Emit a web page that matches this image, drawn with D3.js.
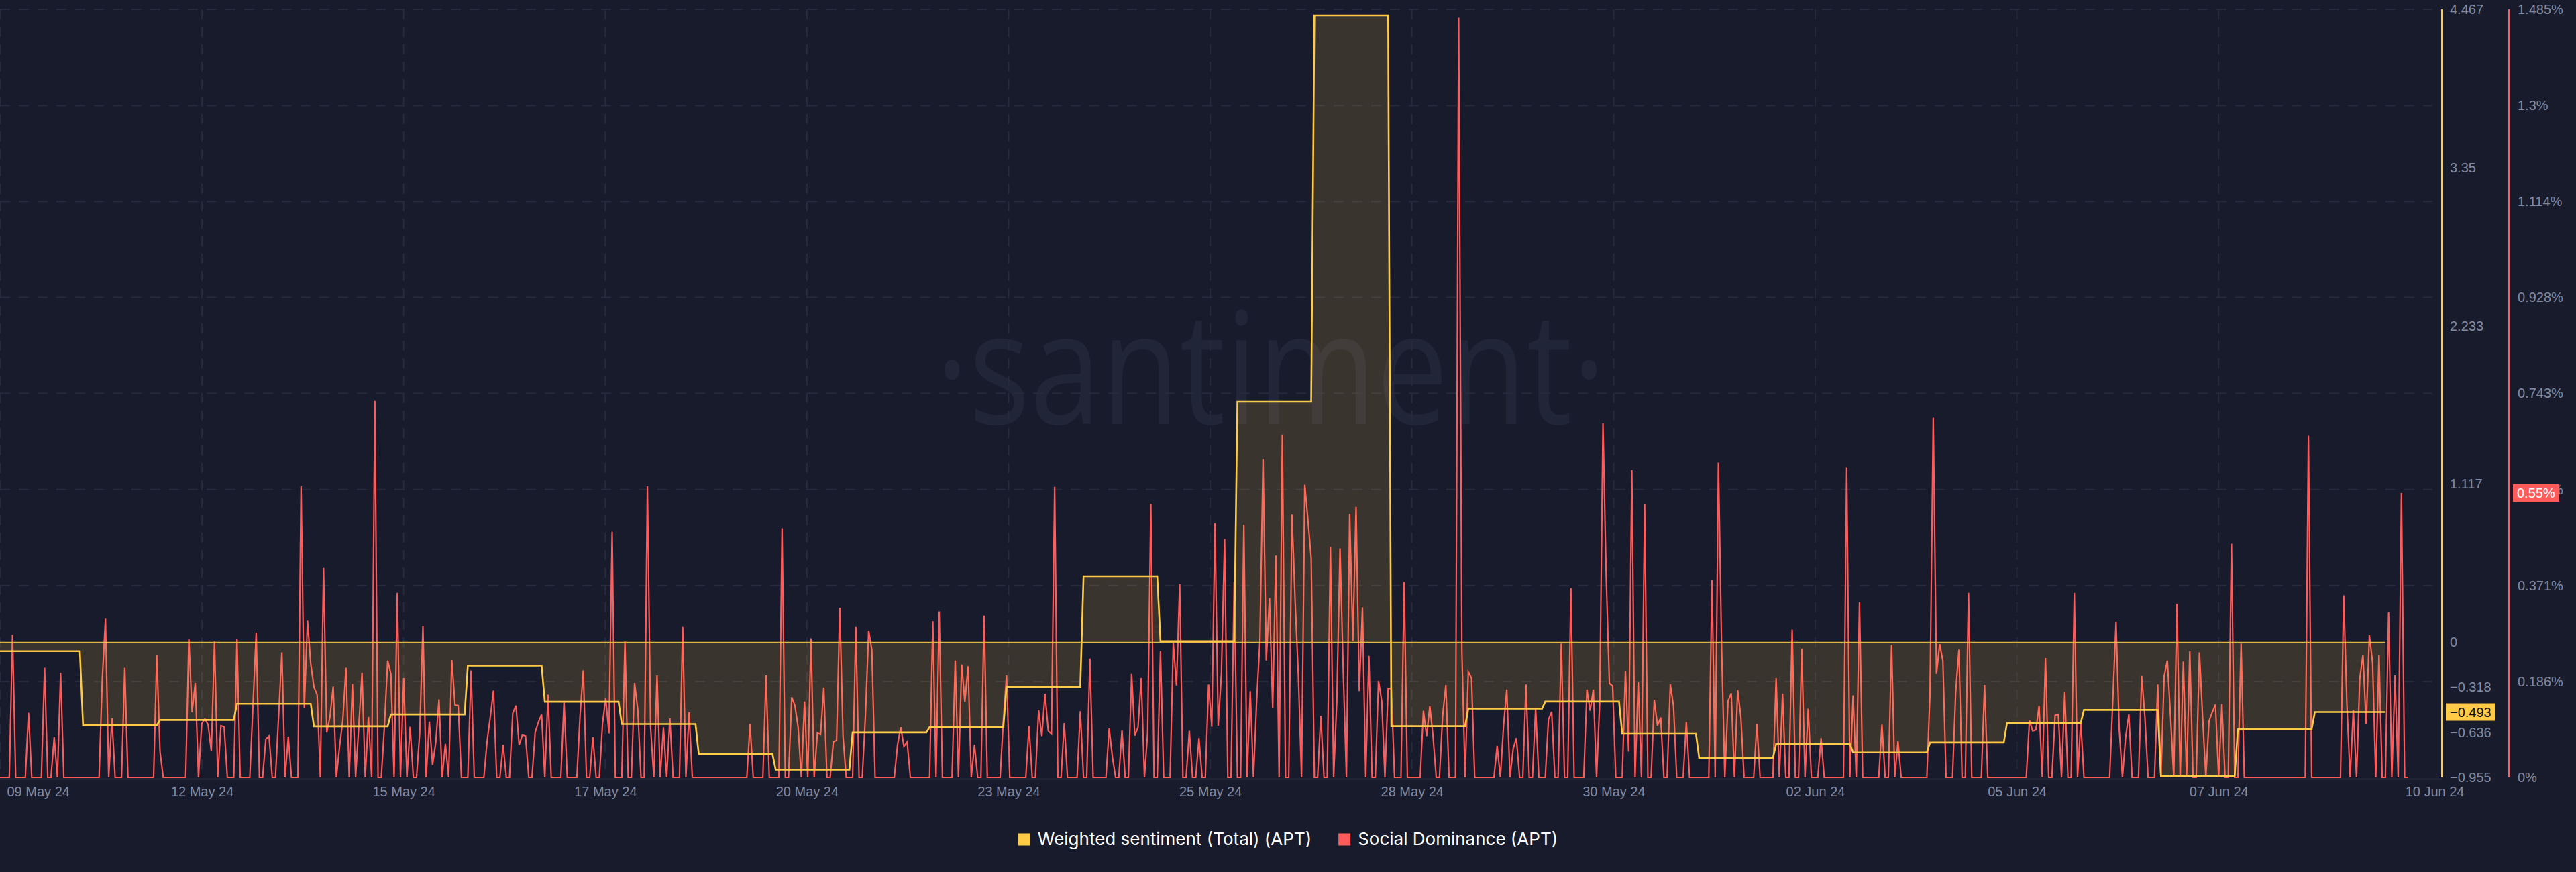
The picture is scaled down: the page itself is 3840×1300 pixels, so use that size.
<!DOCTYPE html>
<html><head><meta charset="utf-8">
<script src="https://cdn.jsdelivr.net/npm/d3@7"></script>
<style>
html,body{margin:0;padding:0;background:#181b2b;}
svg{display:block}
</style></head><body>
<svg id="chart" width="3840" height="1300"></svg>
<script>
// ======================= DATA =======================
// Social Dominance (APT), hourly values in %, first value at hourlyStart
const hourlyStart = "2024-05-09T22:00:00Z";
const socialDominance = [
0,0,0,0,.276,0,0,0,0,.125,0,0,0,0,.212,0,0,.078,0,.202,0,0,0,0,
0,0,0,0,0,0,0,0,.19,.307,0,.114,0,0,0,.212,0,0,0,0,0,0,0,0,
0,.237,.05,0,0,0,0,0,0,0,0,.268,.126,.183,0,.104,.113,.102,.051,.263,0,.1,.098,0,
0,0,.268,0,0,0,0,.14,.28,0,0,.074,.08,0,0,.12,.242,0,.079,0,0,0,.563,.134,
.303,.22,.175,.16,0,.405,.087,.117,.176,0,.06,.11,.212,0,.181,0,.1,.202,0,.117,0,.728,0,0,
.1,.226,.2,0,.357,0,.192,0,.098,0,0,.087,.293,0,.108,.024,.068,.151,0,.065,0,.227,.14,.139,
0,0,0,.207,0,0,0,0,.07,.117,.168,0,0,.063,0,0,.124,.139,.063,.082,.08,0,0,.087,
.107,.122,0,.16,0,0,0,0,.148,0,0,0,0,.12,.207,0,0,.078,0,0,.104,.153,.085,.475,
0,0,0,.263,0,0,.183,.131,0,0,.563,.097,0,.197,0,.097,0,.114,0,0,0,.291,0,.126,
0,0,0,0,0,0,0,0,0,0,0,0,0,0,0,0,0,0,.103,0,0,0,0,.197,
0,0,0,0,.482,0,0,.155,.139,.097,0,.147,0,.269,0,.086,.083,.174,0,0,.069,.072,.328,.08,
0,0,0,.291,0,0,.12,.284,.246,0,0,0,0,0,0,0,.063,.097,.06,.069,0,0,0,0,
0,0,0,.302,0,.321,0,0,0,0,.226,0,.218,.146,.215,0,.063,0,0,.313,0,0,0,0,
0,.11,.197,0,0,0,0,0,0,.099,0,0,.13,.08,.162,.09,.084,.562,0,0,.105,0,0,0,
0,.128,0,0,.23,0,0,0,0,0,.095,.04,0,0,.091,0,0,.2,.081,.097,.192,0,.087,.529,
0,0,.244,0,0,0,.26,.178,.374,0,0,.09,0,0,.076,0,0,.18,.098,.492,.1,.2,.461,0,
0,.378,0,0,.489,0,.167,0,.148,.264,.615,.226,.347,.134,.429,0,.663,0,0,.508,.342,.197,0,.566,
.497,.424,0,0,.119,0,0,.446,0,.148,.443,.206,0,.509,.264,.523,.167,.329,0,.235,0,0,.187,.148,
0,.172,.172,0,0,0,.378,0,0,0,0,0,.129,.08,.138,.08,0,0,.119,.179,0,0,0,1.469,
.245,0,.204,.192,0,0,0,0,0,0,0,.061,0,.1,.17,0,.056,.076,0,0,.18,0,0,.134,
0,0,0,.112,.127,0,0,.259,0,0,.366,0,0,0,0,.17,.129,.17,0,.148,.685,.39,.182,.177,
0,0,0,.206,.05,.594,0,.184,0,.528,0,0,.15,.1,.116,0,0,.18,.138,0,0,0,.107,0,
0,0,0,0,0,0,.382,0,.609,.25,0,.148,.163,0,.169,.117,0,0,0,0,.103,0,0,0,
0,0,.192,0,.162,0,0,.286,0,0,.249,0,.133,0,0,0,.076,0,0,0,0,0,0,0,
.6,0,.159,0,.339,0,0,0,0,0,0,.102,0,0,.256,0,.07,0,0,0,0,0,0,0,
0,0,.165,.696,.2,.258,.225,0,0,0,.165,.247,0,0,.357,0,0,0,0,.179,0,0,0,0,
0,0,0,0,0,0,0,0,0,.11,.09,.092,.138,0,.231,0,0,.12,.122,0,.165,0,0,.357,
0,.108,0,0,0,0,0,0,0,0,0,.15,.301,.092,0,.078,.122,0,0,0,.196,.117,0,0,
0,.18,0,.195,.226,.117,0,.336,0,.224,0,.244,0,0,.242,.117,0,.109,.126,.141,0,.142,0,0,
.452,0,0,.259,0,0,0,0,0,0,0,0,0,0,0,0,0,0,0,0,0,0,0,0,
.661,0,0,0,0,0,0,0,0,0,0,.352,.141,0,.13,0,.19,.237,.103,.275,.222,0,.237,0,
0,.319,0,.197,0,.55,0,0
];

// Weighted sentiment (Total) (APT), one value per day
const sentimentDates = [
"2024-05-09","2024-05-10","2024-05-11","2024-05-12","2024-05-13","2024-05-14","2024-05-15","2024-05-16",
"2024-05-17","2024-05-18","2024-05-19","2024-05-20","2024-05-21","2024-05-22","2024-05-23","2024-05-24",
"2024-05-25","2024-05-26","2024-05-27","2024-05-28","2024-05-29","2024-05-30","2024-05-31","2024-06-01",
"2024-06-02","2024-06-03","2024-06-04","2024-06-05","2024-06-06","2024-06-07","2024-06-08","2024-06-09"];
const sentimentValues = [
-0.063,-0.063,-0.587,-0.549,-0.435,-0.594,-0.51,-0.166,
-0.42,-0.578,-0.79,-0.90,-0.637,-0.60,-0.315,0.466,
0.007,1.697,4.424,-0.593,-0.469,-0.419,-0.647,-0.817,
-0.719,-0.778,-0.708,-0.57,-0.478,-0.946,-0.615,-0.493];
const sentimentEnd = "2024-06-09T22:00:00Z";

// axes extents shown on the chart
const timeExtent = ["2024-05-09T22:06:00Z", "2024-06-10T15:36:00Z"];
const sentimentAxisExtent = [-0.9546, 4.4668];
const dominanceAxisExtent = [0, 1.4852];

// x tick marks and their labels
const xTickDates = ["2024-05-09T22:11:00Z","2024-05-12T13:05:00Z","2024-05-15T03:58:00Z","2024-05-17T18:52:00Z",
"2024-05-20T09:45:00Z","2024-05-23T00:38:00Z","2024-05-25T15:32:00Z","2024-05-28T06:25:00Z","2024-05-30T21:19:00Z",
"2024-06-02T12:12:00Z","2024-06-05T03:05:00Z","2024-06-07T17:59:00Z","2024-06-10T08:52:00Z"];
const xTickLabels = ["09 May 24","12 May 24","15 May 24","17 May 24","20 May 24","23 May 24","25 May 24",
"28 May 24","30 May 24","02 Jun 24","05 Jun 24","07 Jun 24","10 Jun 24"];

const seriesNames = ["Weighted sentiment (Total) (APT)", "Social Dominance (APT)"];

// ======================= STYLE =======================
const COL = {bg:"#181b2b", yellow:"#ffcb47", red:"#ff5b5b", grid:"#262a3c", axisText:"#838ba3",
             watermark:"#212538", baseline:"#252a3a"};
const W = 3840, H = 1300;
const plot = {left:0, right:3640, top:14, bottom:1159};
const HOUR = 36e5;

const svg = d3.select("#chart");
svg.append("rect").attr("width",W).attr("height",H).attr("fill",COL.bg);

const x = d3.scaleUtc().domain(timeExtent.map(d=>new Date(d))).range([plot.left, plot.right]);
const yS = d3.scaleLinear().domain(sentimentAxisExtent).range([plot.bottom, plot.top]);
const yD = d3.scaleLinear().domain(dominanceAxisExtent).range([plot.bottom, plot.top]);

// ticks
const [smin, smax] = sentimentAxisExtent;
const sentTicks = [smin, smin*2/3, smin/3, 0, smax/4, smax/2, smax*3/4, smax];
const domTicks = d3.range(0, 9).map(k => dominanceAxisExtent[1]*k/8);
const fmt = d3.format(".3~f");

// watermark
svg.append("text").attr("x", 1894).attr("y", 632).attr("text-anchor","middle")
  .attr("font-family","'Open Sans', sans-serif").attr("font-size", 233)
  .attr("textLength", 1000).attr("lengthAdjust","spacingAndGlyphs")
  .attr("fill", COL.watermark).text("\u00B7santiment\u00B7");

// grid
const grid = svg.append("g");
grid.selectAll("line.h").data(domTicks.filter(d=>d>0)).join("line")
  .attr("x1", plot.left).attr("x2", 3626).attr("y1", d=>yD(d)).attr("y2", d=>yD(d))
  .attr("stroke", COL.grid).attr("stroke-width", 2).attr("stroke-dasharray","15 13");
grid.selectAll("line.v").data(xTickDates.slice(0,-1)).join("line")
  .attr("x1", d=>x(new Date(d))).attr("x2", d=>x(new Date(d)))
  .attr("y1", plot.top).attr("y2", plot.bottom)
  .attr("stroke", COL.grid).attr("stroke-width", 2).attr("stroke-dasharray","15 11");

// clip
svg.append("clipPath").attr("id","clip").append("rect")
  .attr("x", plot.left).attr("y", 0).attr("width", plot.right-plot.left).attr("height", plot.bottom+4);
const g = svg.append("g").attr("clip-path","url(#clip)");

// social dominance line
const t0 = +new Date(hourlyStart);
const domPts = socialDominance.map((v,i)=>[new Date(t0 + i*HOUR), v]);
g.append("path").datum(domPts)
  .attr("d", d3.line().x(d=>x(d[0])).y(d=>yD(d[1])))
  .attr("fill","none").attr("stroke", COL.red).attr("stroke-width", 2.2);

// sentiment: each daily value held through the day (hourly resolution)
const sEnd = new Date(sentimentEnd);
const sentPts = [];
sentimentDates.forEach((d,i)=>{
  const t = new Date(d+"T00:00:00Z");
  let te = new Date(+t + 23*HOUR); if (te > sEnd) te = sEnd;
  sentPts.push([t, sentimentValues[i]], [te, sentimentValues[i]]);
});
g.append("path").datum(sentPts)
  .attr("d", d3.area().x(d=>x(d[0])).y0(yS(0)).y1(d=>yS(d[1])))
  .attr("fill", COL.yellow).attr("fill-opacity", 0.15);
g.append("line").attr("x1", x(sentPts[0][0])).attr("x2", x(sEnd))
  .attr("y1", yS(0)).attr("y2", yS(0)).attr("stroke", COL.yellow).attr("stroke-width", 1.3).attr("opacity",0.85);
g.append("path").datum(sentPts)
  .attr("d", d3.line().x(d=>x(d[0])).y(d=>yS(d[1])))
  .attr("fill","none").attr("stroke", COL.yellow).attr("stroke-width", 2.6);

// baseline
svg.append("line").attr("x1", plot.left).attr("x2", plot.right).attr("y1", plot.bottom+2.5).attr("y2", plot.bottom+2.5)
  .attr("stroke", COL.baseline).attr("stroke-width", 2);

// x axis
const xa = svg.append("g").attr("transform", `translate(0,${plot.bottom})`)
  .call(d3.axisBottom(x).tickValues(xTickDates.map(d=>new Date(d)))
        .tickFormat((d,i)=>xTickLabels[i]).tickSize(0).tickPadding(0));
xa.select(".domain").remove();
xa.selectAll("text").attr("y", 28).attr("dy", 0)
  .attr("font-family","'Liberation Sans', Arial, sans-serif").attr("font-size", 20).attr("fill", COL.axisText);
const xTexts = xa.selectAll("text").nodes();
// keep outer labels readable at the edges
{
  const first = xTexts[0], w0 = first.getComputedTextLength();
  const fx = x(new Date(xTickDates[0]));
  d3.select(first).attr("x", 10 + w0/2 - fx);
  const last = xTexts[xTexts.length-1], wl = last.getComputedTextLength();
  const lx = x(new Date(xTickDates[xTickDates.length-1]));
  d3.select(last).attr("x", 3673 - wl/2 - lx);
}

// left (sentiment) axis
svg.append("line").attr("x1", 3640).attr("x2", 3640).attr("y1", plot.top).attr("y2", plot.bottom)
  .attr("stroke", COL.yellow).attr("stroke-width", 2);
const la = svg.append("g").attr("transform","translate(3640,0)")
  .call(d3.axisRight(yS).tickValues(sentTicks).tickFormat(fmt).tickSize(0).tickPadding(12));
la.select(".domain").remove();
la.selectAll("text").attr("font-family","'Liberation Sans', Arial, sans-serif").attr("font-size",20).attr("fill",COL.axisText);

// right (dominance) axis
svg.append("line").attr("x1", 3740).attr("x2", 3740).attr("y1", plot.top).attr("y2", plot.bottom)
  .attr("stroke", COL.red).attr("stroke-width", 2);
const ra = svg.append("g").attr("transform","translate(3740,0)")
  .call(d3.axisRight(yD).tickValues(domTicks).tickFormat(d=>fmt(d)+"%").tickSize(0).tickPadding(13));
ra.select(".domain").remove();
ra.selectAll("text").attr("font-family","'Liberation Sans', Arial, sans-serif").attr("font-size",20).attr("fill",COL.axisText);

// last-value badges
function badge(xl, yc, txt, bg, fg){
  const b = svg.append("g");
  const t = b.append("text").attr("x", xl+6).attr("y", yc).attr("dy","0.35em")
    .attr("font-family","'Liberation Sans', Arial, sans-serif").attr("font-size",20).attr("fill",fg).text(txt);
  const w = t.node().getComputedTextLength();
  b.insert("rect","text").attr("x", xl).attr("y", yc-13).attr("width", w+12).attr("height", 26).attr("fill", bg);
}
const lastSent = sentimentValues[sentimentValues.length-1];
badge(3646, yS(lastSent), d3.format(".3f")(lastSent), COL.yellow, "#111");
const lastDom = socialDominance.filter(v=>v>0).slice(-1)[0];
badge(3746, yD(lastDom), d3.format(".2f")(lastDom)+"%", COL.red, "#fff");

// legend
const legend = svg.append("g");
let cx = 0;
[[seriesNames[0], COL.yellow],[seriesNames[1], COL.red]].forEach(([name,col],i)=>{
  const it = legend.append("g").attr("transform",`translate(${cx},0)`);
  it.append("rect").attr("x",0).attr("y",-17.5).attr("width",18).attr("height",18).attr("fill",col);
  const t = it.append("text").attr("x",29).attr("y",0).attr("font-family","Inter, 'Liberation Sans', sans-serif")
    .attr("font-size",26).attr("fill","#ffffff").text(name);
  cx += 29 + t.node().getComputedTextLength() + 40;
});
const total = cx - 40;
legend.attr("transform", `translate(${1920 - total/2},1260)`);
</script>
</body></html>
